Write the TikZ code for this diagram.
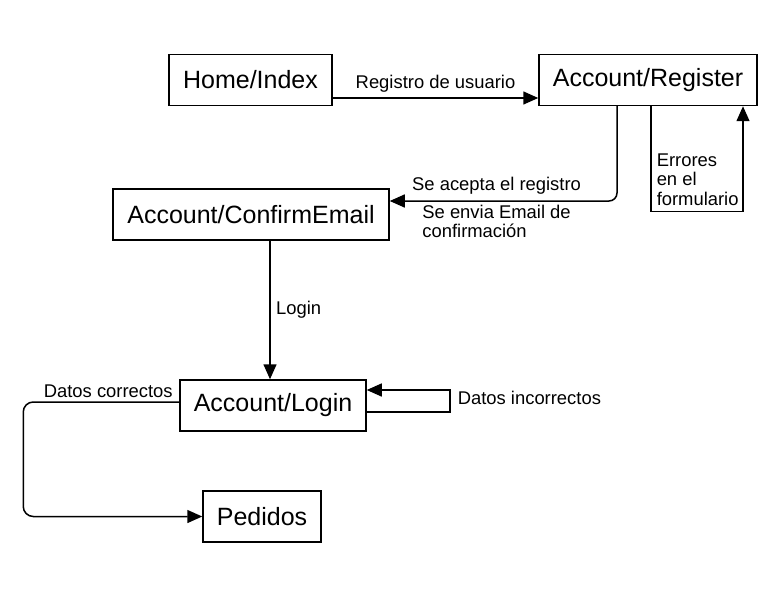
\documentclass[tikz,border=0pt]{standalone}
\usepackage{fontspec}
\setmainfont{Liberation Sans}
\usetikzlibrary{arrows.meta, calc}

\begin{document}
\begin{tikzpicture}[x=1pt, y=-1pt, >={Triangle[length=15pt, width=13pt]},
  box/.style={draw, line width=1.5pt, font=\fontsize{25}{29}\selectfont,
    minimum height=51pt, inner sep=0pt},
  lbl/.style={font=\fontsize{18.4}{19.5}\selectfont, align=left},
  flow/.style={line width=1.5pt, ->}]

% Canvas
\useasboundingbox (0,0) rectangle (783,588);

% ============================================================
% Pages
% ============================================================
\node[box, minimum width=163pt] (home)     at (250.5,80)  {Home/Index};
\node[box, minimum width=218pt] (register) at (648,80)    {Account/Register};
\node[box, minimum width=276pt] (confirm)  at (251,214.5) {Account/ConfirmEmail};
\node[box, minimum width=186pt] (login)    at (273,405.5) {Account/Login};
\node[box, minimum width=118pt] (pedidos)  at (262,516.5) {Pedidos};

% ============================================================
% Transitions
% ============================================================
% Home -> Register
\draw[flow] ([yshift=-18pt]home.east) --
  node[lbl, midway, above, yshift=2pt] {Registro de usuario}
  ([yshift=-18pt]register.west);

% Register -> ConfirmEmail
\draw[flow, rounded corners=8pt] ([xshift=-31pt]register.south) |-
  node[lbl, pos=0.765, above, yshift=2.5pt] {Se acepta el registro}
  node[lbl, pos=0.765, below] {Se envia Email de\\confirmación}
  ([yshift=13.5pt]confirm.east);

% Register -> Register (errors)
\draw[flow] ([xshift=3pt]register.south) --
  node[lbl, pos=0.7, right, inner sep=5pt] {Errores\\en el\\formulario}
  ++(0,105) -| ([xshift=95pt]register.south);

% ConfirmEmail -> Login
\draw[flow] ([xshift=19pt]confirm.south) --
  node[lbl, midway, right, xshift=2pt] {Login}
  ([xshift=19pt]confirm.south |- login.north);

% Login -> Login (wrong data)
\draw[flow] ([yshift=-6.5pt]login.east) -- ++(83,0) |-
  node[lbl, pos=0.25, right, xshift=4pt, yshift=3pt] {Datos incorrectos}
  ([yshift=15.5pt]login.east);

% Login -> Pedidos
\draw[flow, rounded corners=10pt] ([yshift=3.5pt]login.west) --
  node[lbl, pos=0.455, above] {Datos correctos}
  ++(-156,0) |- (pedidos.west);

\end{tikzpicture}
\end{document}
